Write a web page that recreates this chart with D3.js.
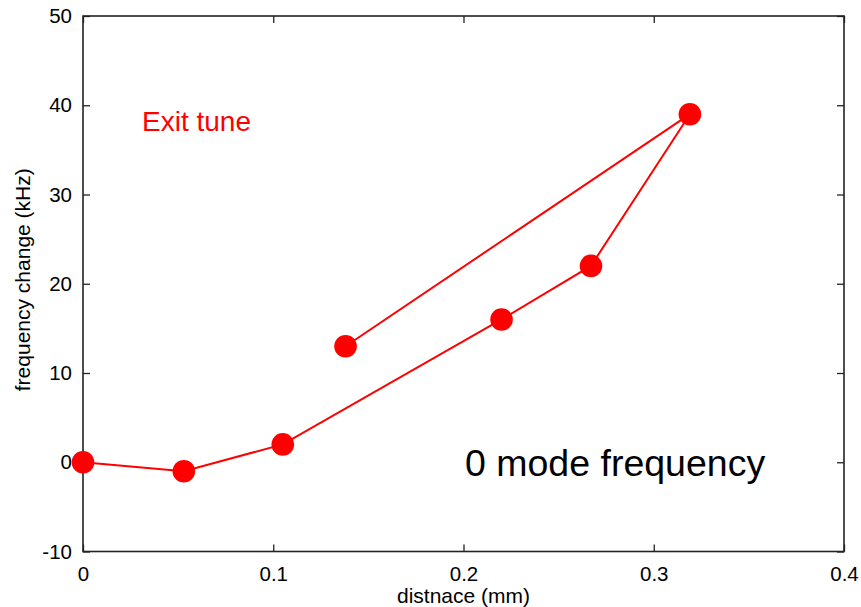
<!DOCTYPE html>
<html>
<head>
<meta charset="utf-8">
<script src="https://cdn.jsdelivr.net/npm/d3@7"></script>
<style>
  html, body { margin: 0; padding: 0; background: #fff; }
  svg { display: block; font-family: "Liberation Sans", Arial, Helvetica, sans-serif; }
</style>
</head>
<body>
<svg id="chart" width="861" height="607"></svg>
<script>
// Measurement sequence: distance (mm) and frequency change (kHz), in the order taken
const distance = [0, 0.053, 0.105, 0.22, 0.267, 0.319, 0.138];
const freqChange = [0, -1, 2, 16, 22, 39, 13];

const xTicks = [0, 0.1, 0.2, 0.3, 0.4];
const yTicks = [-10, 0, 10, 20, 30, 40, 50];
const xTickLabels = ["0", "0.1", "0.2", "0.3", "0.4"];
const yTickLabels = ["-10", "0", "10", "20", "30", "40", "50"];

const xTitle = "distnace (mm)";
const yTitle = "frequency change (kHz)";
const noteLabel = "Exit tune";
const modeLabel = "0 mode frequency";

const margin = { left: 83, right: 17, top: 16, bottom: 55.5 };
const W = 861, H = 607;
const svg = d3.select("#chart");

const x = d3.scaleLinear().domain([0, 0.4]).range([margin.left, W - margin.right]);
const y = d3.scaleLinear().domain([-10, 50]).range([H - margin.bottom, margin.top]);

const axisColor = "#222";
const tickLen = 7;
const tickFont = 20.5;
const titleFont = 21;

// Tick marks pointing inward on all four sides, labels on bottom and left
function styleAxis(g) {
  g.select(".domain").remove();
  g.selectAll(".tick line").attr("stroke", axisColor).attr("stroke-width", 1.3);
  g.selectAll(".tick text").attr("fill", "#000").attr("font-size", tickFont)
    .attr("font-family", "Liberation Sans, Arial, sans-serif");
}

svg.append("g")
  .attr("transform", `translate(0,${y(-10)})`)
  .call(d3.axisBottom(x).tickValues(xTicks).tickSize(-tickLen).tickPadding(15)
    .tickFormat((d, i) => xTickLabels[i]))
  .call(styleAxis);

svg.append("g")
  .attr("transform", `translate(0,${y(50)})`)
  .call(d3.axisTop(x).tickValues(xTicks).tickSize(-tickLen).tickFormat(""))
  .call(styleAxis);

svg.append("g")
  .attr("transform", `translate(${x(0)},0)`)
  .call(d3.axisLeft(y).tickValues(yTicks).tickSize(-tickLen).tickPadding(11)
    .tickFormat((d, i) => yTickLabels[i]))
  .call(styleAxis);

svg.append("g")
  .attr("transform", `translate(${x(0.4)},0)`)
  .call(d3.axisRight(y).tickValues(yTicks).tickSize(-tickLen).tickFormat(""))
  .call(styleAxis);

// Frame
svg.append("rect")
  .attr("x", x(0)).attr("y", y(50))
  .attr("width", x(0.4) - x(0)).attr("height", y(-10) - y(50))
  .attr("fill", "none").attr("stroke", axisColor).attr("stroke-width", 1.6);

// Axis titles
svg.append("text")
  .attr("x", (x(0) + x(0.4)) / 2).attr("y", 603)
  .attr("text-anchor", "middle").attr("font-size", titleFont)
  .text(xTitle);

svg.append("text")
  .attr("transform", `translate(30,${(y(-10) + y(50)) / 2 - 4}) rotate(-90)`)
  .attr("text-anchor", "middle").attr("font-size", titleFont)
  .text(yTitle);

// Data line and markers
const pts = distance.map((d, i) => [d, freqChange[i]]);
const line = d3.line().x(d => x(d[0])).y(d => y(d[1]));

svg.append("path")
  .datum(pts)
  .attr("d", line)
  .attr("fill", "none")
  .attr("stroke", "#ff0000")
  .attr("stroke-width", 2);

svg.append("g").selectAll("circle")
  .data(pts)
  .join("circle")
  .attr("cx", d => x(d[0]))
  .attr("cy", d => y(d[1]))
  .attr("r", 11.3)
  .attr("fill", "#ff0000");

// Annotations
svg.append("text")
  .attr("x", 142).attr("y", 131)
  .attr("font-size", 28).attr("fill", "#ff0000")
  .text(noteLabel);

svg.append("text")
  .attr("x", 465).attr("y", 476)
  .attr("font-size", 37.5).attr("fill", "#000")
  .text(modeLabel);
</script>
</body>
</html>
